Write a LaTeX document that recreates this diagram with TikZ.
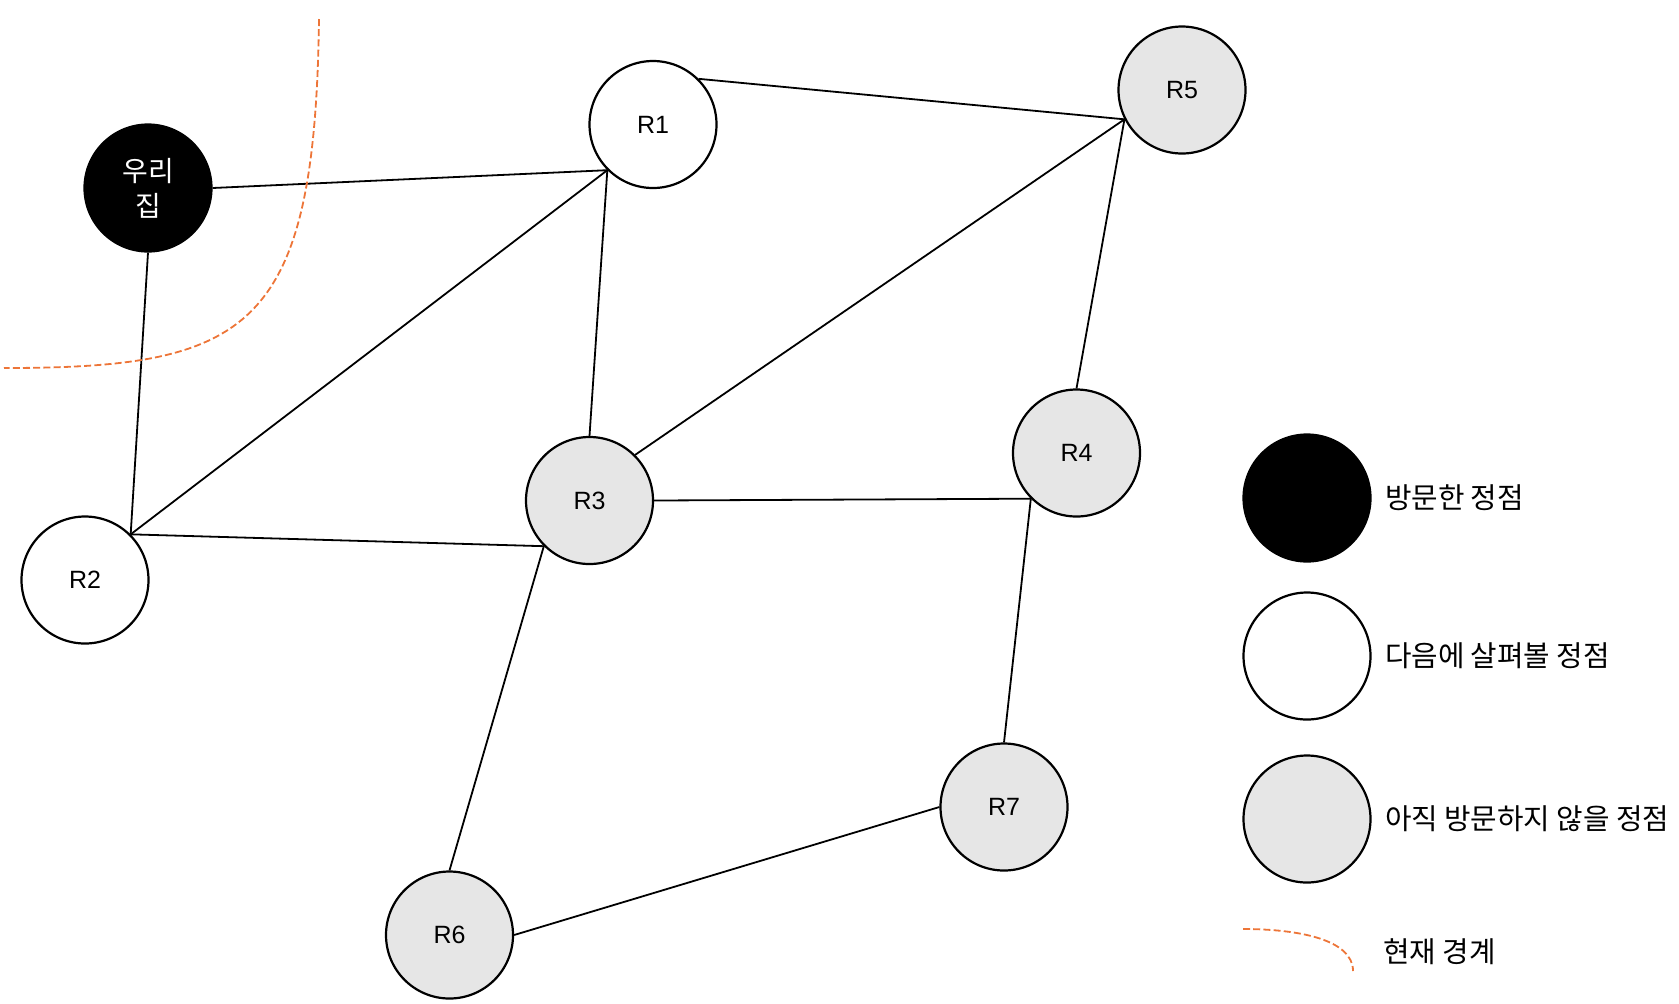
\documentclass[tikz,border=0pt]{standalone}
\usepackage{fontspec}
\setmainfont{Liberation Sans}
\newfontfamily\kr{Noto Sans CJK KR}
\usepackage{tikz}
\definecolor{unseen}{HTML}{E6E6E6}
\definecolor{border}{HTML}{ED7538}
\tikzstyle{vertex}=[circle,draw,line width=1.1pt,minimum size=63.5pt,inner sep=0pt,font=\fontsize{12.5}{15}\selectfont]
\tikzstyle{seen}=[vertex,fill=black,text=white,align=center,font=\kr\fontsize{14}{17.5}\selectfont]
\tikzstyle{next}=[vertex,fill=white]
\tikzstyle{todo}=[vertex,fill=unseen]
\tikzstyle{edge} = [draw,line width=0.9pt]
\tikzstyle{frontier} = [draw=border,line width=0.9pt,dash pattern=on 3.5pt off 1.6pt]
\tikzstyle{legend} = [anchor=west,inner sep=0pt,font=\kr\fontsize{14.4}{17}\selectfont]

\begin{document}
\begin{tikzpicture}[x=0.5pt,y=-0.5pt]
        \useasboundingbox (0,0) rectangle (1679,1003);
        % graph
        \node[seen] (h) at (148,188) {우리\\집};
        \node[next] (r1) at (653,124.5) {R1};
        \node[next] (r2) at (85,580) {R2};
        \node[todo] (r3) at (589.5,500.5) {R3};
        \node[todo] (r4) at (1076.5,453) {R4};
        \node[todo] (r5) at (1182,90) {R5};
        \node[todo] (r6) at (449.5,935) {R6};
        \node[todo] (r7) at (1004,807) {R7};
        \path[edge] (h.east) -- (r1.225);
        \path[edge] (h.south) -- (r2.45);
        \path[edge] (r1.45) -- (r5.207);
        \path[edge] (r1.225) -- (r2.45);
        \path[edge] (r1.225) -- (r3.north);
        \path[edge] (r5.207) -- (r3.45);
        \path[edge] (r5.207) -- (r4.north);
        \path[edge] (r2.45) -- (r3.225);
        \path[edge] (r3.east) -- (r4.225);
        \path[edge] (r3.225) -- (r6.north);
        \path[edge] (r4.225) -- (r7.north);
        \path[edge] (r6.east) -- (r7.west);
        % current frontier
        \coordinate (b0) at (319,19);
        \coordinate (b1) at (4,368);
        \path[frontier] (b0) .. controls (315,330) and (250,368) .. (b1);
        % legend
        \node[vertex,fill=black,label={[legend,label distance=6.5pt]east:방문한 정점}] (k1) at (1307,498) {};
        \node[next,label={[legend,label distance=6.5pt]east:다음에 살펴볼 정점}] (k2) at (1307,656) {};
        \node[todo,label={[legend,label distance=6.5pt]east:아직 방문하지 않을 정점}] (k3) at (1307,819) {};
        \coordinate (c0) at (1243,929);
        \coordinate (c1) at (1353,971);
        \path[frontier] (c0) .. controls (1300,929) and (1353,940) .. (c1);
        \node[legend] (k4) at (1383,952) {현재 경계};
    \end{tikzpicture}
\end{document}
